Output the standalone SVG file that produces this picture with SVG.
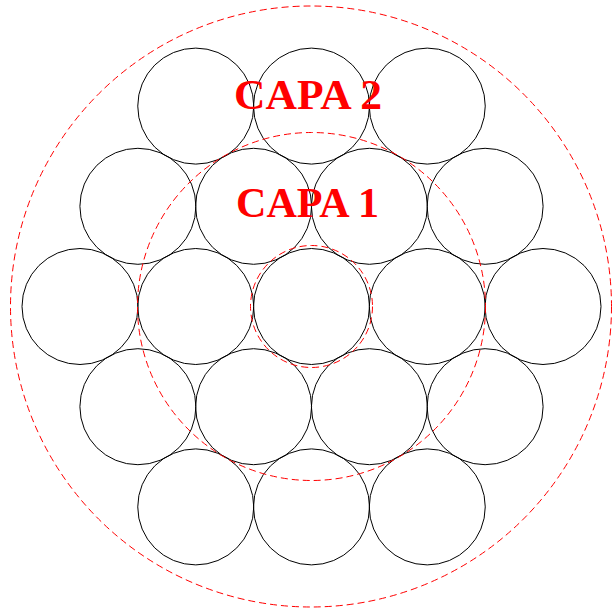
<svg xmlns="http://www.w3.org/2000/svg" width="613" height="609" viewBox="0 0 613 609">
<style>
.w{fill:none;stroke:#000;stroke-width:1}
.d{fill:none;stroke:#ff0000;stroke-width:1;stroke-dasharray:7,4}
.t{font-family:"Liberation Serif","Times New Roman",serif;font-weight:bold;font-size:42px;fill:#ff0000;text-anchor:middle}
</style>
<rect width="613" height="609" fill="#fff"/>
<g id="wires">
<circle class="w" cx="195.75" cy="106.1" r="58"/>
<circle class="w" cx="311.5" cy="106.1" r="58"/>
<circle class="w" cx="427.25" cy="106.1" r="58"/>
<circle class="w" cx="137.9" cy="206.3" r="58"/>
<circle class="w" cx="253.6" cy="206.3" r="58"/>
<circle class="w" cx="369.4" cy="206.3" r="58"/>
<circle class="w" cx="485.1" cy="206.3" r="58"/>
<circle class="w" cx="80" cy="306.5" r="58"/>
<circle class="w" cx="195.75" cy="306.5" r="58"/>
<circle class="w" cx="311.5" cy="306.5" r="58"/>
<circle class="w" cx="427.25" cy="306.5" r="58"/>
<circle class="w" cx="543" cy="306.5" r="58"/>
<circle class="w" cx="137.9" cy="406.7" r="58"/>
<circle class="w" cx="253.6" cy="406.7" r="58"/>
<circle class="w" cx="369.4" cy="406.7" r="58"/>
<circle class="w" cx="485.1" cy="406.7" r="58"/>
<circle class="w" cx="195.75" cy="506.9" r="58"/>
<circle class="w" cx="311.5" cy="506.9" r="58"/>
<circle class="w" cx="427.25" cy="506.9" r="58"/>
</g>
<g id="layers">
<circle class="d" cx="311.5" cy="306.5" r="61"/>
<circle class="d" cx="311.5" cy="306.5" r="174"/>
<circle class="d" cx="311" cy="306.5" r="300.5"/>
</g>
<g id="labels">
<text class="t" x="308" y="109" textLength="148" lengthAdjust="spacingAndGlyphs">CAPA 2</text>
<text class="t" x="307.5" y="217" textLength="143" lengthAdjust="spacingAndGlyphs">CAPA 1</text>
</g>
</svg>
